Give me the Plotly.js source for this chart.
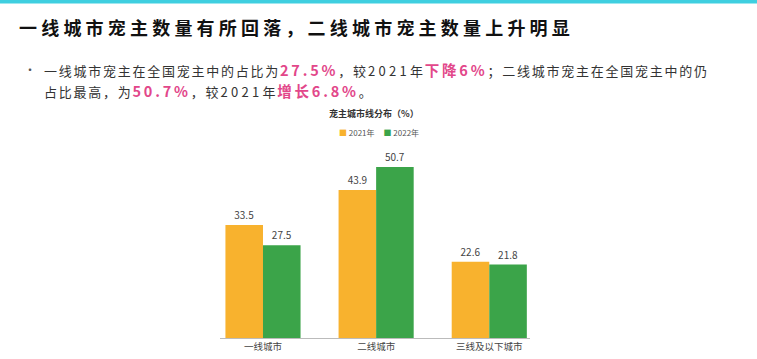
<!DOCTYPE html>
<html>
<head>
<meta charset="utf-8">
<script src="https://cdn.plot.ly/plotly-3.0.1.min.js"></script>
<style>
html,body{margin:0;padding:0;background:#fff;}
#chart{width:757px;height:359px;}
</style>
</head>
<body>
<div id="chart"></div>
<script>
const categories = ['一线城市', '二线城市', '三线及以下城市'];
const series2021 = [33.5, 43.9, 22.6];
const series2022 = [27.5, 50.7, 21.8];
const seriesNames = ['2021年', '2022年'];
const seriesColors = ['#f8b22e', '#3ba449'];
const headline = '一线城市宠主数量有所回落，二线城市宠主数量上升明显';
const chartTitle = '宠主城市线分布（%）';

const W = 757, H = 359;
const px = x => x / W;
const py = y => 1 - y / H;
const PINK = '#e2478a';
const sp = (s, ls) => '<span style="letter-spacing:' + ls + 'px">' + s + '</span>';
const n = s => '<span style="font-size:13px;letter-spacing:1.75px">' + s + '</span>';
const d = s => '<span style="font-size:13px;letter-spacing:3.3px">' + s + '</span>';
const pk = s => '<span style="fill:' + PINK + ';font-weight:bold;font-size:14.5px;letter-spacing:2.8px">' + s + '</span>';

const fmt = v => v.toFixed(1);

const traces = [series2021, series2022].map((vals, i) => ({
  type: 'bar', name: seriesNames[i], x: categories, y: vals,
  marker: {color: seriesColors[i]},
  text: vals.map(fmt), textposition: 'outside', cliponaxis: false,
  textfont: {size: 10, color: '#444', family: 'Noto Sans CJK SC, sans-serif'},
  hoverinfo: 'none', showlegend: false
}));

const line1 = n('一线城市宠主在全国宠主中的占比为') + pk('27.5%') + n('，较') + d('2021') + n('年') + pk('下降6%') + n('；二线城市宠主在全国宠主中的仍');
const line2 = n('占比最高，为') + pk('50.7%') + n('，较') + d('2021') + n('年') + pk('增长6.8%') + n('。');

const legendText = seriesNames.map((nm, i) =>
  '<span style="fill:' + seriesColors[i] + '">■</span> ' + nm).join('     ');

const layout = {
  width: W, height: H,
  margin: {l: 0, r: 0, t: 0, b: 0},
  paper_bgcolor: '#fff', plot_bgcolor: '#fff',
  font: {family: 'Noto Sans CJK SC, sans-serif', color: '#333'},
  barmode: 'group', bargap: 0.336, bargroupgap: 0,
  showlegend: false,
  xaxis: {
    domain: [px(220), px(530)],
    range: [-0.38, 2.36],
    showline: true, linecolor: '#bbbbbb', linewidth: 1,
    ticks: '', showgrid: false, zeroline: false,
    tickfont: {size: 9.5, color: '#444'}, fixedrange: true
  },
  yaxis: {
    domain: [py(338), py(160)],
    range: [0, 52.8],
    visible: false, showgrid: false, zeroline: false, fixedrange: true
  },
  shapes: [
    {type: 'rect', xref: 'paper', yref: 'paper', x0: 0, x1: 1, y0: py(3.5), y1: 1,
     fillcolor: '#3fcfe0', line: {width: 0}}
  ],
  annotations: [
    {xref: 'paper', yref: 'paper', x: px(17), y: py(27), xanchor: 'left', yanchor: 'middle',
     text: '<b>' + sp(headline, 4.2) + '</b>', showarrow: false,
     font: {size: 18, color: '#111', family: 'Noto Sans CJK SC, sans-serif'}},
    {xref: 'paper', yref: 'paper', x: px(22), y: py(70), xanchor: 'left', yanchor: 'middle',
     text: '•', showarrow: false, font: {size: 12, color: '#555'}},
    {xref: 'paper', yref: 'paper', x: px(42), y: py(70), xanchor: 'left', yanchor: 'middle',
     text: line1, showarrow: false, font: {size: 13, color: '#333'}},
    {xref: 'paper', yref: 'paper', x: px(42), y: py(90), xanchor: 'left', yanchor: 'middle',
     text: line2, showarrow: false, font: {size: 13, color: '#333'}},
    {xref: 'paper', yref: 'paper', x: px(374), y: py(113), xanchor: 'center', yanchor: 'middle',
     text: '<b>' + chartTitle + '</b>', showarrow: false, font: {size: 9, color: '#333'}},
    {xref: 'paper', yref: 'paper', x: px(337), y: py(133), xanchor: 'left', yanchor: 'middle',
     text: legendText, showarrow: false, font: {size: 8, color: '#555'}}
  ]
};

Plotly.newPlot('chart', traces, layout, {displayModeBar: false, staticPlot: true});
</script>
</body>
</html>
